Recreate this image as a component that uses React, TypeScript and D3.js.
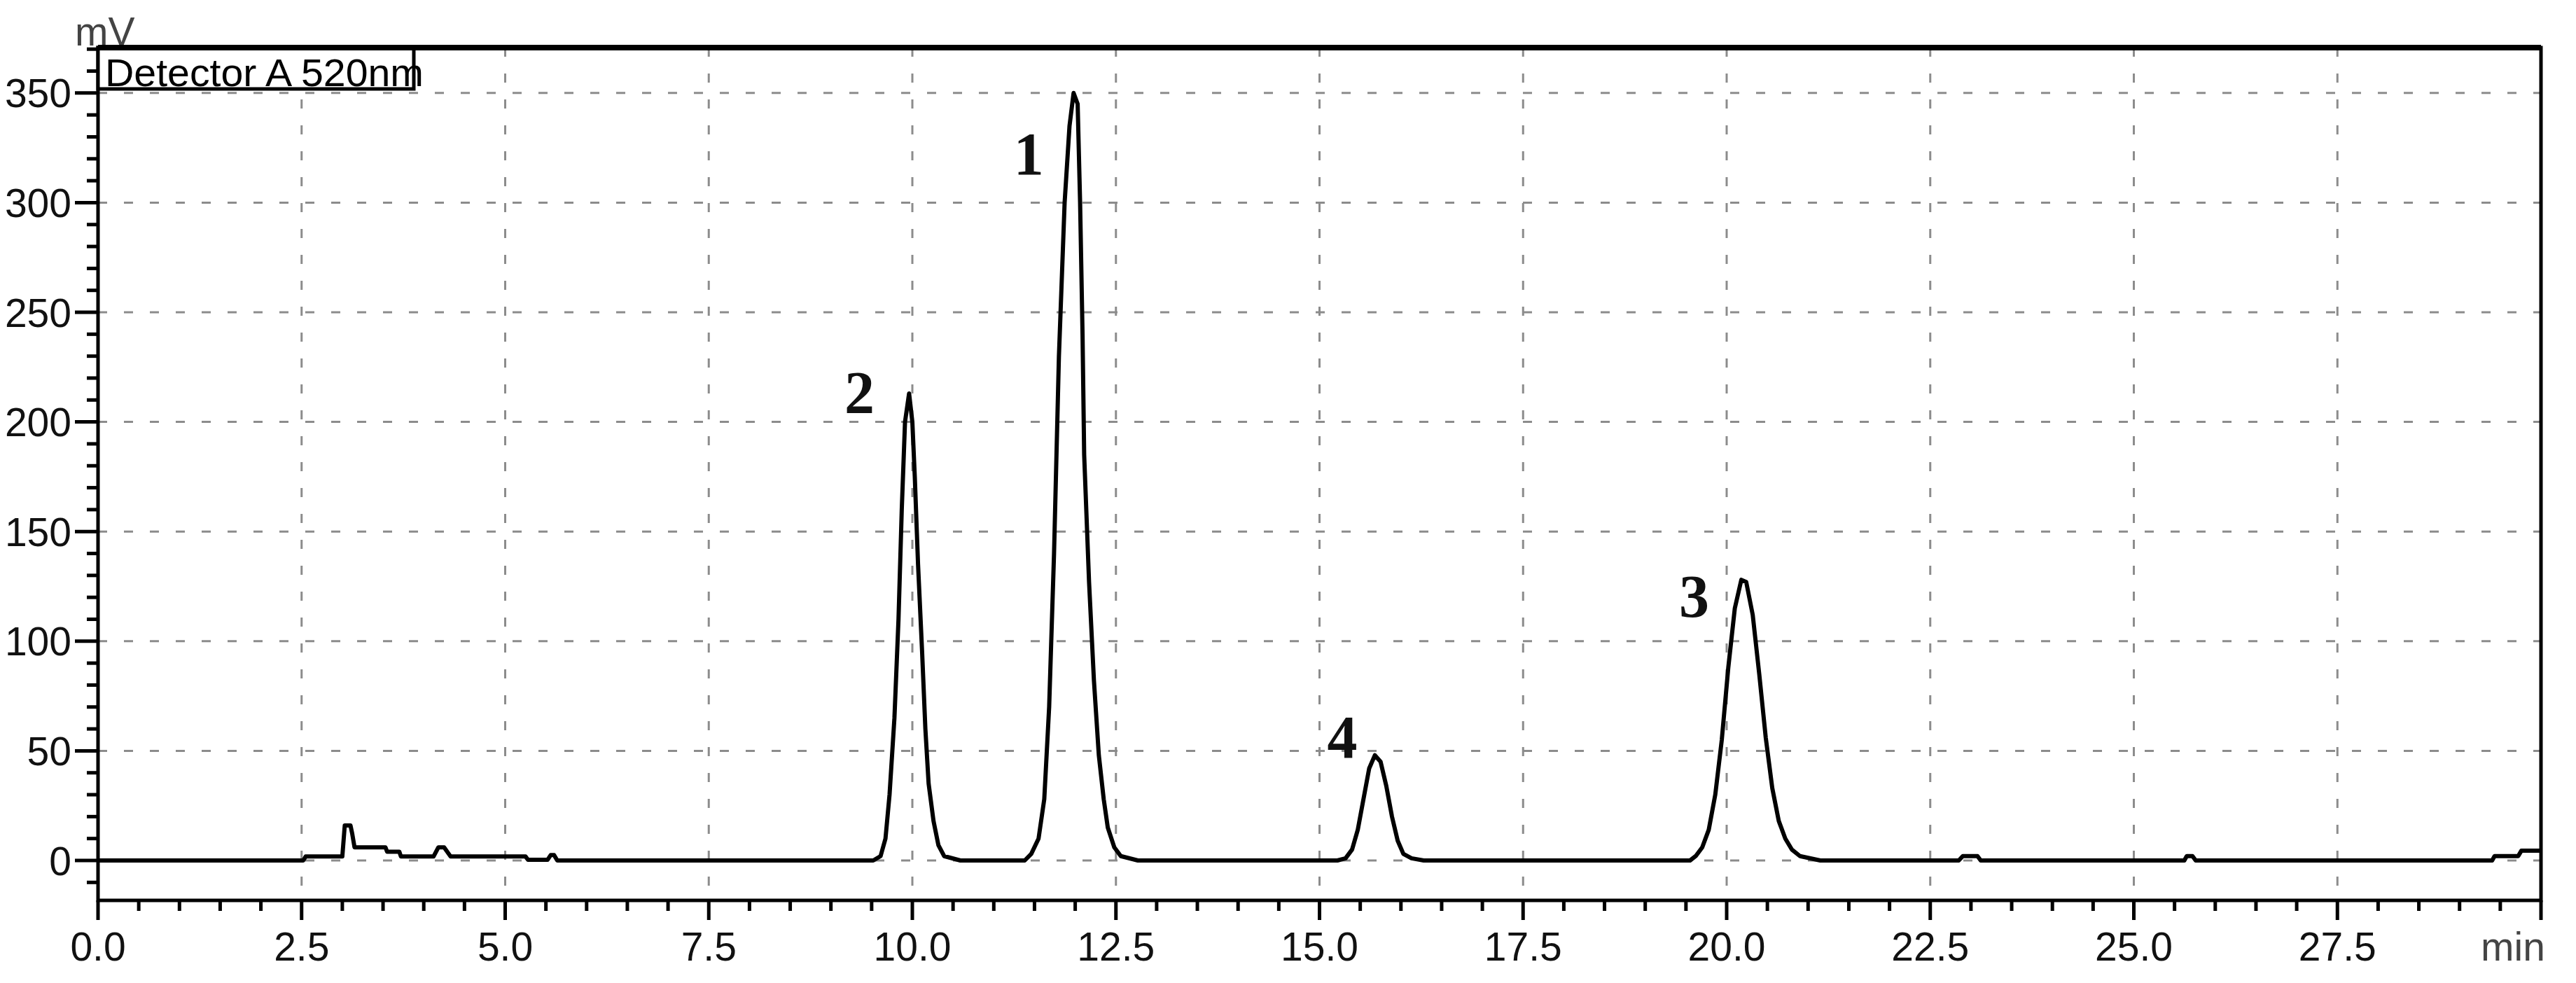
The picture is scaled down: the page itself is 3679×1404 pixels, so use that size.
import React from 'react';
import * as d3 from 'd3';

// chromatogram trace (min, mV)
const traceTime = [
  0, 2.52, 2.55, 3.0, 3.03, 3.1, 3.12, 3.15, 3.53, 3.55, 3.7, 3.72, 4.12, 4.18, 4.25, 4.33, 5.25, 5.28, 5.52, 5.56, 5.6, 5.64,
  9.52, 9.61, 9.67, 9.72, 9.78, 9.83, 9.87, 9.91, 9.96, 10.0, 10.03, 10.07, 10.12, 10.16, 10.2, 10.26, 10.32, 10.39, 10.59,
  11.38, 11.46, 11.55, 11.62, 11.68, 11.74, 11.8, 11.87, 11.93, 11.98, 12.03, 12.06, 12.09, 12.11, 12.17, 12.23, 12.29, 12.35, 12.4, 12.48, 12.56, 12.77,
  15.22, 15.32, 15.4, 15.47, 15.54, 15.61, 15.68, 15.75, 15.82, 15.89, 15.96, 16.03, 16.13, 16.28,
  19.55, 19.62, 19.7, 19.78, 19.86, 19.94, 20.02, 20.1, 20.18, 20.24, 20.32, 20.4, 20.48, 20.56, 20.64, 20.72, 20.8, 20.9, 21.15,
  22.85, 22.9, 23.08, 23.12, 25.62, 25.65, 25.72, 25.76, 29.4, 29.43, 29.72, 29.76, 30,
];
const traceMv = [
  0, 0, 1.8, 1.8, 16, 16, 12.5, 6, 6, 4, 4, 1.8, 1.8, 6, 6, 1.8, 1.8, 0.3, 0.3, 2.5, 2.5, 0,
  0, 2, 10, 30, 65, 110, 160, 200, 213, 200, 175, 135, 95, 60, 35, 18, 7, 2, 0,
  0, 3, 10, 28, 70, 140, 230, 300, 335, 350, 345, 300, 240, 185, 127, 82, 48, 28, 15, 6, 2, 0,
  0, 1, 5, 14, 28, 42, 48, 45, 34, 20, 9, 3, 1, 0,
  0, 2, 6, 14, 30, 55, 88, 115, 128, 127, 112, 85, 56, 33, 18, 10, 5, 2, 0,
  0, 2, 2, 0, 0, 2, 2, 0, 0, 2, 2, 4.5, 4.5,
];

const peakNames = ['2', '1', '4', '3'];
const peakTime = [9.35, 11.43, 15.28, 19.6];
const peakMv = [204, 313, 47, 111];

const xMajorTicks = [0, 2.5, 5, 7.5, 10, 12.5, 15, 17.5, 20, 22.5, 25, 27.5];
const xTickLabels = ['0.0', '2.5', '5.0', '7.5', '10.0', '12.5', '15.0', '17.5', '20.0', '22.5', '25.0', '27.5'];
const yMajorTicks = [0, 50, 100, 150, 200, 250, 300, 350];
const yTickLabels = ['0', '50', '100', '150', '200', '250', '300', '350'];

const legendText = 'Detector A 520nm';

const W = 3679, H = 1404;
const sans = '"Liberation Sans", Arial, sans-serif';
const serif = '"Liberation Serif", "Times New Roman", serif';

export default function App() {
  const x = d3.scaleLinear().domain([0, 30]).range([140, 3629]);
  const y = d3.scaleLinear().domain([-18.2, 370.7]).range([1286, 68]);
  const [x0, x1] = x.range();
  const [yb, yt] = y.range();

  const pts: [number, number][] = traceTime.map((t, i) => [t, traceMv[i]]);
  const line = d3.line<[number, number]>().x(d => x(d[0])).y(d => y(d[1]));

  const xMinor = d3.range(0, 30.001, 0.5).filter(v => Math.abs(v / 2.5 - Math.round(v / 2.5)) > 1e-6);
  const yMinor = d3.range(-10, 371, 10).filter(v => v % 50 !== 0);

  return (
    <svg width={W} height={H} style={{ position: 'absolute', left: 0, top: 0, background: '#fff' }}>
      <rect width={W} height={H} fill="#fff" />

      {/* dashed grid */}
      <g stroke="#8c8c8c" strokeWidth={3} strokeDasharray="13 24">
        {xMajorTicks.filter(v => v > 0).map(v => (
          <line key={'gx' + v} x1={x(v)} x2={x(v)} y1={yt} y2={yb} />
        ))}
        {yMajorTicks.map(v => (
          <line key={'gy' + v} x1={x0} x2={x1} y1={y(v)} y2={y(v)} />
        ))}
      </g>

      {/* trace */}
      <path d={line(pts) || ''} fill="none" stroke="#000" strokeWidth={6} strokeLinejoin="round" />

      {/* frame */}
      <rect x={x0} y={yt} width={x1 - x0} height={yb - yt} fill="none" stroke="#000" strokeWidth={5} />
      <line x1={x0} x2={x1} y1={yt} y2={yt} stroke="#000" strokeWidth={8} />

      {/* ticks */}
      <g stroke="#000" strokeWidth={5}>
        {xMajorTicks.concat([30]).map(v => (
          <line key={'xt' + v} x1={x(v)} x2={x(v)} y1={yb} y2={yb + 28} />
        ))}
        {xMinor.map(v => (
          <line key={'xm' + v} x1={x(v)} x2={x(v)} y1={yb} y2={yb + 15} />
        ))}
        {yMajorTicks.map(v => (
          <line key={'yt' + v} x1={x0} x2={x0 - 33} y1={y(v)} y2={y(v)} />
        ))}
        {yMinor.map(v => (
          <line key={'ym' + v} x1={x0} x2={x0 - 16} y1={y(v)} y2={y(v)} />
        ))}
      </g>

      <g fontFamily={sans} fontSize={57} fill="#111">
        {xMajorTicks.map((v, i) => (
          <text key={'xl' + v} x={x(v)} y={1372} textAnchor="middle">{xTickLabels[i]}</text>
        ))}
        {yMajorTicks.map((v, i) => (
          <text key={'yl' + v} x={x0 - 38} y={y(v)} dy="0.36em" textAnchor="end">{yTickLabels[i]}</text>
        ))}
        <text x={107} y={65} fill="#444">mV</text>
        <text x={x(30) - 40} y={1372} textAnchor="middle" fill="#444">min</text>
      </g>

      {/* legend box */}
      <rect x={x0} y={yt} width={451} height={59} fill="#fff" stroke="#000" strokeWidth={5} />
      <line x1={x0} x2={x0 + 451} y1={yt} y2={yt} stroke="#000" strokeWidth={8} />
      <text x={150} y={123} fontFamily={sans} fontSize={56} fill="#000" textLength={455} lengthAdjust="spacingAndGlyphs">
        {legendText}
      </text>

      {/* peak numbers */}
      <g fontFamily={serif} fontWeight="bold" fontSize={86} fill="#111" textAnchor="middle">
        {peakNames.map((n, i) => (
          <text key={'p' + n} x={x(peakTime[i])} y={y(peakMv[i])}>{n}</text>
        ))}
      </g>
    </svg>
  );
}
